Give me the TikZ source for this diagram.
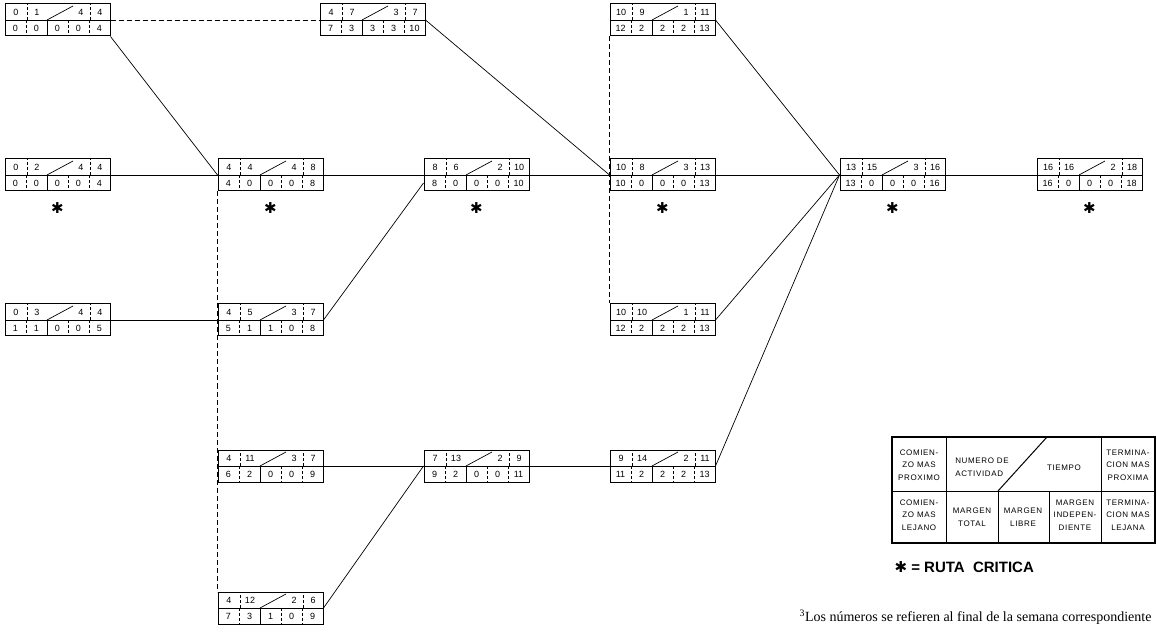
\documentclass[tikz,border=0pt]{standalone}
\usepackage{fontspec}
\setmainfont{Liberation Sans}
\newfontfamily\notefont{Liberation Serif}
\newfontfamily\starfont{DejaVu Sans}
\newfontfamily\legfont[LetterSpace=8]{Liberation Sans}
\usetikzlibrary{positioning}

\tikzset{
  actbox/.style={draw, line width=1pt, minimum width=105pt, minimum height=32pt, inner sep=0pt},
  cellsep/.style={densely dashed, line width=0.6pt},
  numtxt/.style={font=\fontsize{9}{9}\selectfont, inner sep=0pt},
  legtxt/.style={font=\legfont\fontsize{8}{12.5}\selectfont, align=center, inner sep=0pt},
  link/.style={line width=0.7pt},
  dummy/.style={line width=0.7pt, dash pattern=on 5pt off 3pt},
  crit/.style={font=\starfont\fontsize{15}{15}\selectfont, inner sep=0pt},
}

\begin{document}
\begin{tikzpicture}[x=1pt,y=-1pt]
\useasboundingbox (0,0) rectangle (1157,644);

% activity boxes: name / left / middle line / ES / act / t / EF / LS / TF / FF / IF / LF
\foreach \n/\x/\y/\es/\ac/\tm/\ef/\ls/\tf/\ff/\ind/\lf in {
    act1/5/20/0/1/4/4/0/0/0/0/4,
    act7/320/20/4/7/3/7/7/3/3/3/10,
    act9/610/20/10/9/1/11/12/2/2/2/13,
    act2/5/175/0/2/4/4/0/0/0/0/4,
    act4/218/175/4/4/4/8/4/0/0/0/8,
    act6/424/175/8/6/2/10/8/0/0/0/10,
    act8/610/175/10/8/3/13/10/0/0/0/13,
    act15/840/175/13/15/3/16/13/0/0/0/16,
    act16/1037/175/16/16/2/18/16/0/0/0/18,
    act3/5/320/0/3/4/4/1/1/0/0/5,
    act5/218/320/4/5/3/7/5/1/1/0/8,
    act10/610/320/10/10/1/11/12/2/2/2/13,
    act11/218/466/4/11/3/7/6/2/0/0/9,
    act13/424/466/7/13/2/9/9/2/0/0/11,
    act14/610/466/9/14/2/11/11/2/2/2/13,
    act12/218/608/4/12/2/6/7/3/1/0/9}
{
  \node[actbox] (\n) at (\x+52.5,\y) {};
  \draw[line width=0.8pt] (\x,\y) -- ++(105,0);
  % top row
  \draw[cellsep] (\x+22,\y) -- ++(0,-16);
  \draw[cellsep] (\x+85,\y) -- ++(0,-16);
  \draw[line width=0.7pt] (\x+42,\y) -- ++(26,-14);
  \node[numtxt] at (\x+11,\y-8) {\es};
  \node[numtxt] at (\x+32,\y-8) {\ac};
  \node[numtxt] at (\x+76,\y-8) {\tm};
  \node[numtxt] at (\x+95,\y-8) {\ef};
  % bottom row
  \draw[cellsep] (\x+21,\y) -- ++(0,16);
  \draw[line width=0.7pt] (\x+42,\y) -- ++(0,16);
  \draw[cellsep] (\x+63,\y) -- ++(0,16);
  \draw[cellsep] (\x+84,\y) -- ++(0,16);
  \node[numtxt] at (\x+10.5,\y+8) {\ls};
  \node[numtxt] at (\x+31.5,\y+8) {\tf};
  \node[numtxt] at (\x+52.5,\y+8) {\ff};
  \node[numtxt] at (\x+73.5,\y+8) {\ind};
  \node[numtxt] at (\x+94.5,\y+8) {\lf};
}

% critical path marks
\foreach \n in {act2,act4,act6,act8,act15,act16}
  \node[crit, below=11pt of \n] {✱};

% connectors
\draw[dummy] (act1.east) -- (act7.west);
\draw[link] (act1.south east) -- (act4.west);
\draw[link] (act2.east) -- (act4.west);
\draw[link] (act3.east) -- (act5.west);
\draw[link] (act4.east) -- (act6.west);
\draw[link] (act5.east) -- ([yshift=-8pt]act6.west);
\draw[link] (act6.east) -- (act8.west);
\draw[link] (act7.east) -- (act8.west);
\draw[link] (act9.east) -- (act15.west);
\draw[link] (act8.east) -- (act15.west);
\draw[link] (act10.east) -- (act15.west);
\draw[link] (act14.east) -- (act15.west);
\draw[link] (act15.east) -- (act16.west);
\draw[link] (act11.east) -- (act13.west);
\draw[link] (act12.east) -- (act13.west);
\draw[link] (act13.east) -- (act14.west);
\draw[dummy] (act4.south west) -- (act12.north west);
\draw[dummy] (act9.south west) -- (act10.north west);

% legend
\node[draw, line width=1.2pt, minimum width=263pt, minimum height=106pt, inner sep=0pt] (legend) at (1023.5,490) {};
\draw[line width=1pt] (892,491) -- (1155,491);
\draw[line width=1pt] (946,437) -- (946,543);
\draw[line width=1pt] (1101,437) -- (1101,543);
\draw[line width=1pt] (998,491) -- (998,543);
\draw[line width=1pt] (1049,491) -- (1049,543);
\draw[line width=1pt] (998,491) -- (1047,437);
\node[legtxt] at (919,465) {COMIEN-\\ZO MAS\\PROXIMO};
\node[legtxt, align=left] at (982,467) {NUMERO DE\\ACTIVIDAD};
\node[legtxt] at (1064,468) {TIEMPO};
\node[legtxt] at (1128,465) {TERMINA-\\CION MAS\\PROXIMA};
\node[legtxt] at (919,515) {COMIEN-\\ZO MAS\\LEJANO};
\node[legtxt] at (972,517) {MARGEN\\TOTAL};
\node[legtxt] at (1023,517) {MARGEN\\LIBRE};
\node[legtxt] at (1075,515) {MARGEN\\INDEPEN-\\DIENTE};
\node[legtxt] at (1128,515) {TERMINA-\\CION MAS\\LEJANA};
\node[anchor=west, font=\fontsize{15}{15}\selectfont\bfseries] (ruta) at (891,567) {{\starfont ✱} = RUTA \ CRITICA};

% footnote
\node[anchor=east, font=\notefont\fontsize{14}{14}\selectfont] (note) at (1155,617) {\textsuperscript{3}Los números se refieren al final de la semana correspondiente};
\end{tikzpicture}
\end{document}
